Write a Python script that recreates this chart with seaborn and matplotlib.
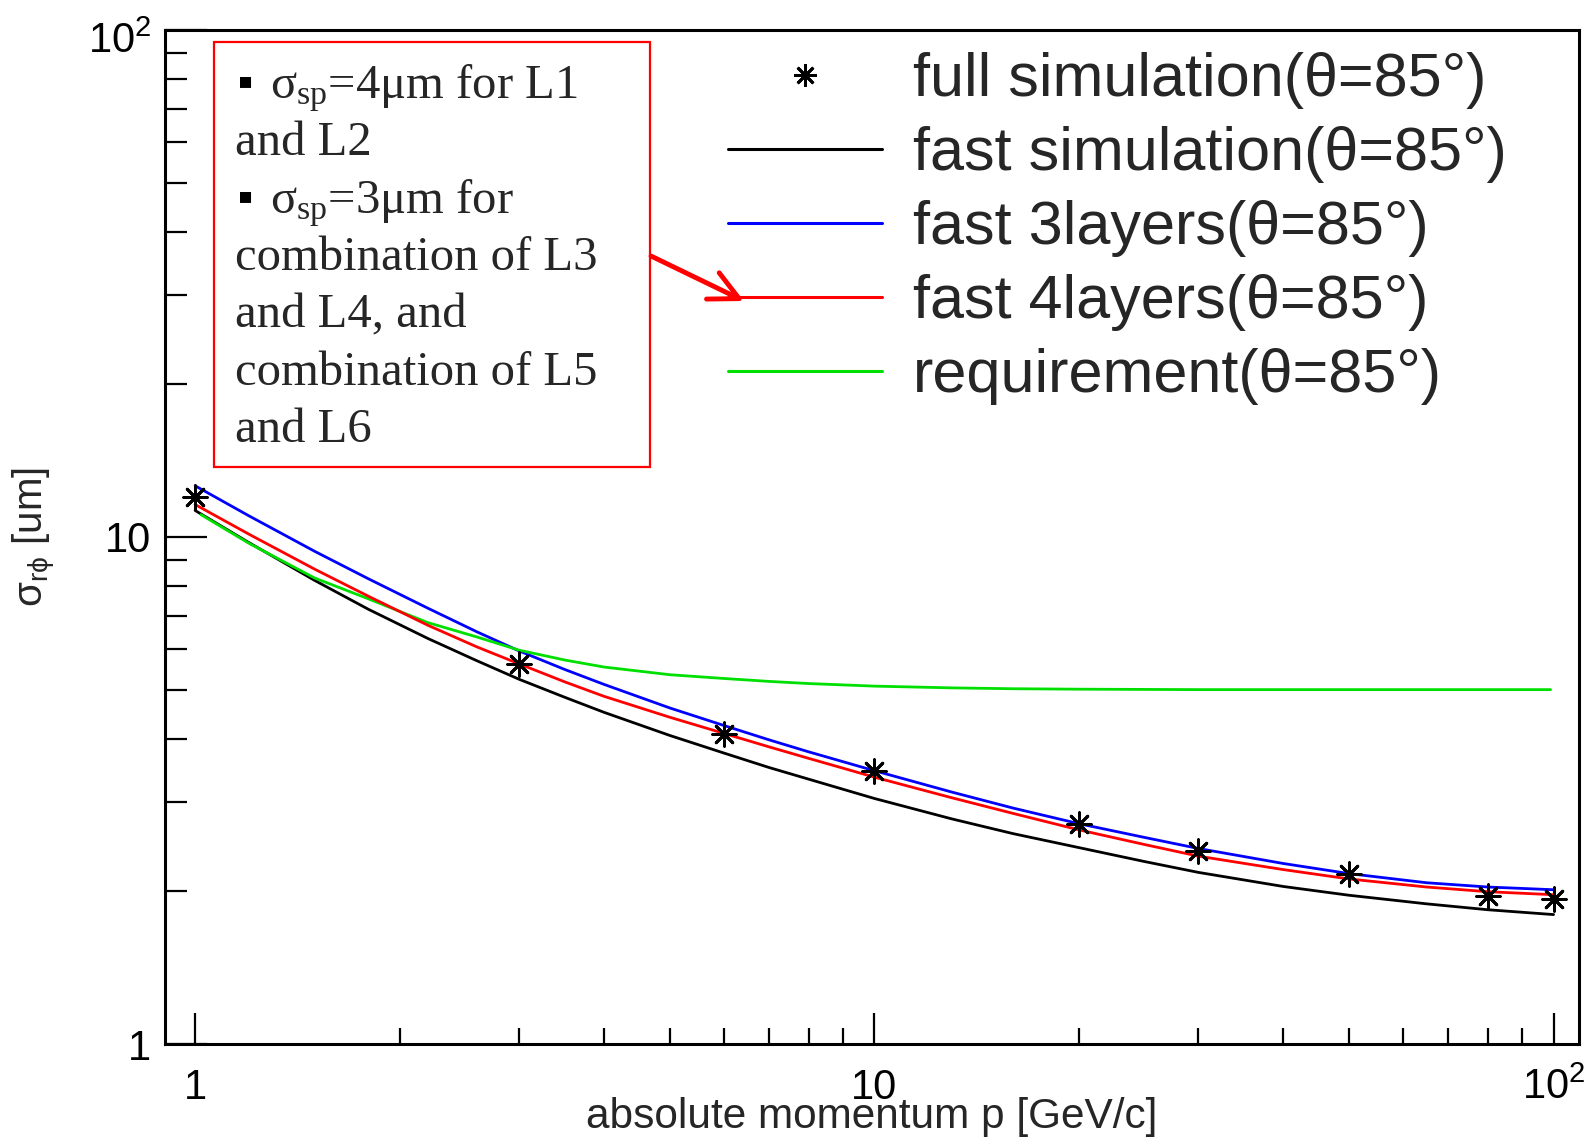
import matplotlib
matplotlib.use("Agg")
import matplotlib.pyplot as plt
import matplotlib.transforms as mtransforms
import seaborn as sns
from matplotlib.lines import Line2D
from matplotlib.patches import Rectangle
from matplotlib.ticker import FixedLocator, FixedFormatter, LogLocator, NullFormatter

# ---------------- data ----------------
full_p = [1, 3, 6, 10, 20, 30, 50, 80, 100]
full_sigma = [12.0, 5.62, 4.09, 3.45, 2.71, 2.40, 2.16, 1.955, 1.93]

grid_p = [1, 1.2, 1.5, 1.8, 2.2, 2.6, 3, 3.5, 4, 5, 6, 7, 8, 10, 13, 16, 20, 25, 30, 40, 50, 65, 80, 100]

fast_p = grid_p
fast_sigma = [11.28, 9.75, 8.21, 7.20, 6.31, 5.70, 5.24, 4.83, 4.51, 4.06, 3.75, 3.51, 3.33,
              3.05, 2.78, 2.60, 2.44, 2.29, 2.18, 2.045, 1.965, 1.89, 1.84, 1.80]

l3_p = grid_p
l3_sigma = [12.62, 11.01, 9.37, 8.27, 7.24, 6.50, 5.96, 5.48, 5.12, 4.60, 4.25, 3.98, 3.77,
            3.46, 3.14, 2.92, 2.72, 2.555, 2.43, 2.27, 2.168, 2.08, 2.04, 2.015]

l4_p = grid_p
l4_sigma = [11.59, 10.13, 8.64, 7.64, 6.70, 6.07, 5.62, 5.18, 4.85, 4.41, 4.10, 3.855, 3.66,
            3.36, 3.06, 2.85, 2.645, 2.474, 2.347, 2.208, 2.116, 2.04, 1.997, 1.97]

req_p = [1.02, 1.2, 1.5, 1.8, 2.2, 2.6, 3, 3.5, 4, 5, 6, 7, 8, 10, 13, 16, 20, 30, 50, 99]
req_sigma = [11.07, 9.72, 8.30, 7.55, 6.78, 6.35, 5.98, 5.72, 5.54, 5.35, 5.26, 5.19, 5.14,
             5.08, 5.04, 5.02, 5.01, 5.0, 5.0, 5.0]

legend_labels = ["full simulation(θ=85°)", "fast simulation(θ=85°)",
                 "fast 3layers(θ=85°)", "fast 4layers(θ=85°)", "requirement(θ=85°)"]
x_ticks = [1, 10, 100]
x_tick_labels = ["1", "10", r"$\mathregular{10^{2}}$"]
y_ticks = [1, 10, 100]
y_tick_labels = ["1", "10", r"$\mathregular{10^{2}}$"]
x_title = "absolute momentum p [GeV/c]"
y_title = r"$\mathsf{\sigma_{r\phi}}$ [um]"
box_lines = [r"$\mathrm{\sigma_{sp}}$=4μm for L1", "and L2",
             r"$\mathrm{\sigma_{sp}}$=3μm for", "combination of L3",
             "and L4, and", "combination of L5", "and L6"]
box_bullets = [True, False, True, False, False, False, False]

# ---------------- style ----------------
sns.set_theme(style="white")
plt.rcParams["font.family"] = ["Liberation Sans", "DejaVu Sans"]
plt.rcParams["mathtext.fontset"] = "custom"
plt.rcParams["mathtext.rm"] = "Liberation Serif"
plt.rcParams["mathtext.it"] = "Liberation Serif:italic"
plt.rcParams["mathtext.bf"] = "Liberation Serif:bold"
plt.rcParams["mathtext.sf"] = "Liberation Sans"

W, H = 1586, 1138
fig = plt.figure(figsize=(W / 100, H / 100), dpi=100)
fig.patch.set_facecolor("white")
ax = fig.add_axes([165 / W, 1 - 1044 / H, (1579 - 165) / W, (1044 - 30) / H])
ax.set_facecolor("white")
ax.set_xscale("log")
ax.set_yscale("log")

lw = 2.0
green = "#00e000"
sns.lineplot(x=fast_p, y=fast_sigma, color="black", linewidth=lw, ax=ax, zorder=3)
sns.lineplot(x=l3_p, y=l3_sigma, color="#0000ff", linewidth=lw, ax=ax, zorder=3)
sns.lineplot(x=l4_p, y=l4_sigma, color="#ff0000", linewidth=lw, ax=ax, zorder=4)
sns.lineplot(x=req_p, y=req_sigma, color=green, linewidth=lw, ax=ax, zorder=3)
star = (8, 2, 0)
sns.scatterplot(x=full_p, y=full_sigma, marker=star, s=290, color="black",
                edgecolor="black", linewidth=2.0, ax=ax, zorder=5)

ax.set_xlim(0.903, 109)
ax.set_ylim(1, 100)

# ticks
ax.xaxis.set_major_locator(FixedLocator(x_ticks))
ax.xaxis.set_major_formatter(FixedFormatter(x_tick_labels))
ax.yaxis.set_major_locator(FixedLocator(y_ticks))
ax.yaxis.set_major_formatter(FixedFormatter(y_tick_labels))
ax.xaxis.set_minor_locator(LogLocator(base=10, subs=range(2, 10), numticks=20))
ax.yaxis.set_minor_locator(LogLocator(base=10, subs=range(2, 10), numticks=20))
ax.xaxis.set_minor_formatter(NullFormatter())
ax.yaxis.set_minor_formatter(NullFormatter())
ax.tick_params(axis="x", which="major", direction="in", length=22, width=1.6,
               labelsize=30, pad=17, bottom=True, top=False, colors="black")
ax.tick_params(axis="x", which="minor", direction="in", length=11.5, width=1.6,
               bottom=True, top=False, colors="black")
ax.tick_params(axis="y", which="major", direction="in", length=30, width=1.6,
               labelsize=30, pad=10, left=True, right=False, colors="black")
ax.tick_params(axis="y", which="minor", direction="in", length=16, width=1.6,
               left=True, right=False, colors="black")
for s in ax.spines.values():
    s.set_visible(True)
    s.set_color("black")
    s.set_linewidth(2.2)
ax.grid(False)
ax.set_xlabel("")
ax.set_ylabel("")

# nudge the top y label (10^2) down a little, as in the reference
fig.canvas.draw()
top_tick = ax.yaxis.get_major_ticks()[-1]
top_tick.label1.set_transform(top_tick.label1.get_transform() +
                              mtransforms.ScaledTranslation(0, -7 / 100, fig.dpi_scale_trans))

# axis titles
fig.text(872 / W, 1 - 1117 / H, x_title, ha="center", va="center", fontsize=30.5)
fig.text(35 / W, 1 - 537 / H, y_title, rotation=90, ha="center", va="center", fontsize=29)

# legend
handles = [
    Line2D([], [], ls="none", marker=star, ms=16, mew=2.0, color="black"),
    Line2D([], [], color="black", lw=2.2),
    Line2D([], [], color="#0000ff", lw=2.2),
    Line2D([], [], color="#ff0000", lw=2.2),
    Line2D([], [], color=green, lw=2.2),
]
leg = ax.legend(handles, legend_labels, loc="upper left",
                bbox_to_anchor=(728 / W, 1 - 52 / H), bbox_transform=fig.transFigure,
                frameon=False, fontsize=44, handlelength=2.52, handletextpad=0.5,
                labelspacing=0.28, borderpad=0, borderaxespad=0)

# annotation box
fig.add_artist(Rectangle((214 / W, 1 - 467 / H), (650 - 214) / W, (467 - 42) / H,
                         transform=fig.transFigure, fill=False, edgecolor="red", lw=1.6))
baselines = [98, 155, 213, 270, 327, 385, 442]
for txt, bul, yb in zip(box_lines, box_bullets, baselines):
    if bul:
        fig.text(246 / W, 1 - (yb - 17) / H, "▪", ha="center", va="center",
                 fontsize=16, family=["DejaVu Sans"], color="black")
        fig.text(270 / W, 1 - yb / H, txt, ha="left", va="baseline",
                 fontsize=35, family=["Liberation Serif", "DejaVu Serif"])
    else:
        fig.text(235 / W, 1 - yb / H, txt, ha="left", va="baseline",
                 fontsize=35, family=["Liberation Serif", "DejaVu Serif"])

# red arrow
ax.annotate("", xy=(744, H - 301), xycoords="figure pixels",
            xytext=(651, H - 256), textcoords="figure pixels",
            arrowprops=dict(arrowstyle="->,head_length=0.7,head_width=0.35",
                            color="red", lw=3.5, mutation_scale=30,
                            shrinkA=0, shrinkB=0))

fig.savefig("out.png", dpi=100, facecolor="white")
